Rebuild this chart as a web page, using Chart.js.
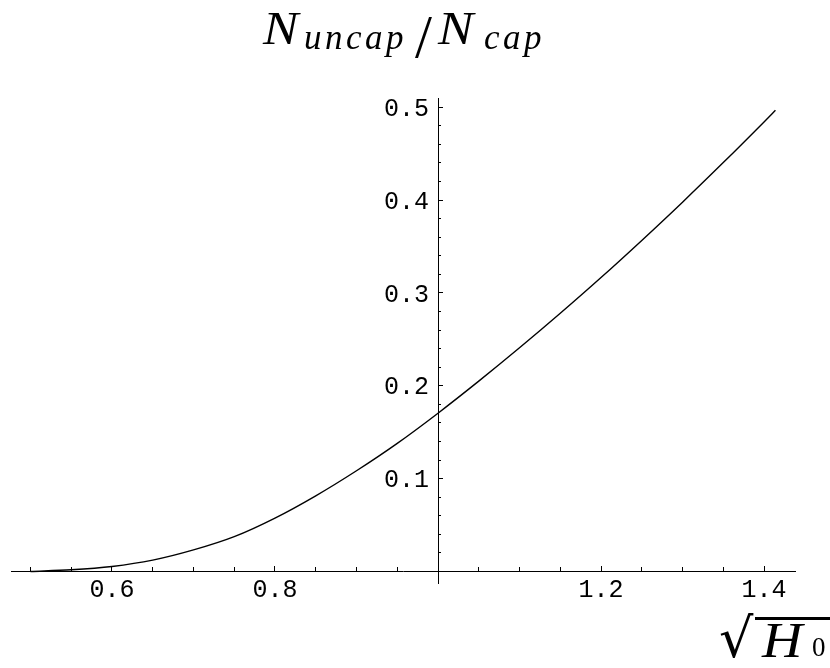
<!DOCTYPE html>
<html>
<head>
<meta charset="utf-8">
<script src="https://cdn.jsdelivr.net/npm/chart.js@4.4.1/dist/chart.umd.min.js"></script>
<style>
  html, body { margin: 0; padding: 0; background: #fff; }
  #wrap { position: relative; width: 830px; height: 668px; overflow: hidden; }
  #plot { position: absolute; left: 0; top: 0; }
  .m { position: absolute; color: #000; white-space: nowrap; font-family: "Liberation Serif", serif; line-height: 1; font-style: italic; }
  /* title pieces: N_uncap / N_cap */
  .bigN { font-size: 46px; top: 6px; transform: scaleX(1.15); transform-origin: left; }
  .sub { font-size: 35px; top: 20px; letter-spacing: 3.5px; }
  .slash { font-size: 61px; top: 6px; font-style: normal; }
  /* x axis title: sqrt(H_0) */
  .rad { font-family: "DejaVu Serif", serif; font-style: normal; font-size: 54px; }
  .bar { position: absolute; left: 755px; top: 617px; width: 80px; height: 3px; background: #000; }
  .bigH { font-size: 50px; top: 615px; transform: scaleX(1.12); transform-origin: left; }
  .zero { font-size: 27px; top: 634px; font-style: normal; }
</style>
</head>
<body>
<div id="wrap">
  <canvas id="plot" width="830" height="668"></canvas>
  <span class="m bigN" style="left:263px">N</span>
  <span class="m sub" style="left:304px">uncap</span>
  <span class="m slash" style="left:415px">/</span>
  <span class="m bigN" style="left:438px">N</span>
  <span class="m sub" style="left:484px">cap</span>
  <span class="m rad" style="left:719px; top:612px">√</span>
  <div class="bar"></div>
  <span class="m bigH" style="left:762px">H</span>
  <span class="m zero" style="left:812px">0</span>
</div>
<script>
/************** DATA **************/
const xValues = [0.50, 0.55, 0.60, 0.65, 0.70, 0.75, 0.80, 0.85, 0.90, 0.95,
                 1.00, 1.05, 1.10, 1.15, 1.20, 1.25, 1.30, 1.35, 1.40, 1.414];
const ratioValues = [0.0000, 0.0018, 0.0054, 0.0122, 0.0232, 0.0375, 0.0575, 0.0815, 0.1085, 0.1380,
                     0.1705, 0.2050, 0.2409, 0.2781, 0.3166, 0.3566, 0.3978, 0.4404, 0.4842, 0.4967];

const xTickLabels = ["0.6", "0.8", "1.2", "1.4"];
const yTickLabels = ["0.1", "0.2", "0.3", "0.4", "0.5"];

/************** SCALE RANGE **************/
const X_MIN = 0.4761, X_MAX = 1.438;
const Y_MIN = -0.0124, Y_MAX = 0.510;

/************** HELPERS **************/
function labelFor(list) {
  return function (value) {
    const s = value.toFixed(1);
    return list.includes(s) ? s : "";
  };
}

const tickFont = { family: "'Liberation Mono', 'Courier New', monospace", size: 25 };

function xAxis(step, tickLen, withLabels) {
  return {
    type: "linear",
    axis: "x",
    position: { y: 0 },
    min: X_MIN,
    max: X_MAX,
    afterFit: s => { s.height = 0; },
    border: { display: withLabels, color: "#000", width: 1 },
    grid: { drawOnChartArea: false, drawTicks: true, tickLength: tickLen, tickColor: "#000", tickWidth: 1 },
    ticks: {
      stepSize: step,
      includeBounds: false,
      autoSkip: false,
      maxRotation: 0,
      display: withLabels,
      padding: 10,
      color: "#000",
      font: tickFont,
      callback: labelFor(xTickLabels)
    }
  };
}

// y axis sits on x = 1; its labels come from a second axis a little to the left
function yAxis(atX, step, tickLen, withTicks, withLabels) {
  return {
    type: "linear",
    axis: "y",
    position: { x: atX },
    min: Y_MIN,
    max: Y_MAX,
    afterFit: s => { s.width = 0; },
    border: { display: withTicks && tickLen === -5, color: "#000", width: 1 },
    grid: { drawOnChartArea: false, drawTicks: withTicks, tickLength: tickLen, tickColor: "#000", tickWidth: 1 },
    ticks: {
      stepSize: step,
      includeBounds: false,
      autoSkip: false,
      display: withLabels,
      labelOffset: 2,
      color: "#000",
      font: tickFont,
      callback: labelFor(yTickLabels)
    }
  };
}

/************** CHART **************/
const ctx = document.getElementById("plot").getContext("2d");

const chart = new Chart(ctx, {
  type: "line",
  data: {
    labels: xValues,
    datasets: [{
      data: xValues.map((x, i) => ({ x: x, y: ratioValues[i] })),
      borderColor: "#000",
      borderWidth: 1.4,
      pointRadius: 0,
      fill: false,
      cubicInterpolationMode: "monotone",
      xAxisID: "x",
      yAxisID: "y"
    }]
  },
  options: {
    responsive: false,
    devicePixelRatio: 1,
    animation: false,
    layout: { padding: { left: 11, right: 35, top: 98, bottom: 85 } },
    plugins: {
      legend: { display: false },
      tooltip: { enabled: false },
      title: { display: false }
    },
    scales: {
      x: xAxis(0.2, -6, true),
      xMinor: xAxis(0.05, -4, false),
      y: yAxis(1, 0.1, -5, true, false),
      yMinor: yAxis(1, 0.02, -3, true, false),
      yLabels: yAxis(0.989, 0.1, 0, false, true)
    }
  }
});
</script>
</body>
</html>
